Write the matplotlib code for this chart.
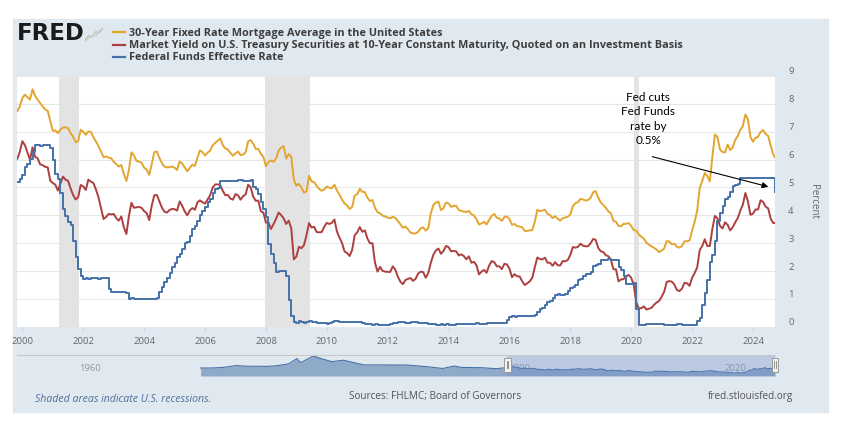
import numpy as np
import matplotlib
matplotlib.use("Agg")
import matplotlib.pyplot as plt
import matplotlib.transforms as mtransforms
from matplotlib.patches import Rectangle
from matplotlib.lines import Line2D

plt.rcParams['font.family'] = ['Open Sans', 'DejaVu Sans']

# monthly values, Nov 1999 .. Sep 2024
mortgage_rate = [
    7.74, 7.91,
    8.21, 8.33, 8.24, 8.15, 8.52, 8.29, 8.15, 8.03, 7.91, 7.80, 7.75, 7.38,
    7.03, 7.05, 6.95, 7.08, 7.15, 7.16, 7.13, 6.95, 6.82, 6.62, 6.66, 7.07,
    7.00, 6.89, 7.01, 6.99, 6.81, 6.65, 6.49, 6.29, 6.09, 6.11, 6.07, 6.05,
    5.92, 5.84, 5.75, 5.81, 5.48, 5.23, 5.63, 6.26, 6.15, 5.95, 5.93, 5.88,
    5.71, 5.64, 5.45, 5.83, 6.27, 6.29, 6.06, 5.87, 5.75, 5.72, 5.73, 5.75,
    5.71, 5.63, 5.93, 5.86, 5.72, 5.58, 5.70, 5.82, 5.77, 6.07, 6.33, 6.27,
    6.15, 6.25, 6.32, 6.51, 6.60, 6.68, 6.76, 6.52, 6.40, 6.36, 6.24, 6.14,
    6.22, 6.29, 6.16, 6.18, 6.26, 6.66, 6.70, 6.57, 6.38, 6.38, 6.21, 6.10,
    5.76, 5.92, 5.97, 5.92, 6.04, 6.32, 6.43, 6.48, 6.04, 6.20, 6.09, 5.29,
    5.06, 5.13, 5.00, 4.81, 4.86, 5.42, 5.22, 5.19, 5.06, 4.95, 4.88, 4.93,
    5.03, 4.99, 4.97, 5.10, 4.89, 4.74, 4.56, 4.43, 4.35, 4.23, 4.30, 4.71,
    4.76, 4.95, 4.84, 4.84, 4.64, 4.51, 4.55, 4.27, 4.11, 4.07, 3.99, 3.96,
    3.92, 3.89, 3.95, 3.91, 3.80, 3.68, 3.55, 3.60, 3.50, 3.38, 3.35, 3.35,
    3.41, 3.53, 3.57, 3.45, 3.54, 4.07, 4.37, 4.46, 4.49, 4.19, 4.26, 4.46,
    4.43, 4.30, 4.34, 4.34, 4.19, 4.16, 4.13, 4.12, 4.16, 4.04, 4.00, 3.86,
    3.67, 3.71, 3.77, 3.67, 3.84, 3.98, 4.05, 3.91, 3.89, 3.80, 3.94, 3.96,
    3.87, 3.66, 3.69, 3.61, 3.60, 3.57, 3.44, 3.44, 3.46, 3.47, 3.77, 4.20,
    4.15, 4.17, 4.20, 4.05, 4.01, 3.90, 3.97, 3.88, 3.81, 3.90, 3.92, 3.95,
    4.03, 4.33, 4.44, 4.47, 4.59, 4.57, 4.53, 4.55, 4.63, 4.83, 4.87, 4.64,
    4.46, 4.37, 4.27, 4.14, 4.07, 3.80, 3.77, 3.62, 3.61, 3.69, 3.70, 3.72,
    3.62, 3.47, 3.45, 3.31, 3.23, 3.16, 3.02, 2.94, 2.89, 2.83, 2.77, 2.68,
    2.74, 2.81, 3.08, 3.06, 2.96, 2.98, 2.87, 2.84, 2.90, 3.07, 3.07, 3.10,
    3.45, 3.76, 4.17, 4.98, 5.23, 5.52, 5.41, 5.22, 6.11, 6.90, 6.81, 6.36,
    6.27, 6.26, 6.54, 6.34, 6.43, 6.71, 6.84, 7.07, 7.20, 7.62, 7.44, 6.82,
    6.64, 6.78, 6.82, 6.99, 7.06, 6.92, 6.85, 6.50, 6.18,
]

treasury_10y = [
    6.03, 6.28,
    6.66, 6.52, 6.26, 5.99, 6.44, 6.10, 6.05, 5.83, 5.80, 5.74, 5.72, 5.24,
    5.16, 5.10, 4.89, 5.14, 5.39, 5.28, 5.24, 4.97, 4.73, 4.57, 4.65, 5.09,
    5.04, 4.91, 5.28, 5.21, 5.16, 4.93, 4.65, 4.26, 3.87, 3.94, 4.05, 4.03,
    4.05, 3.90, 3.81, 3.96, 3.57, 3.33, 3.98, 4.45, 4.27, 4.29, 4.30, 4.27,
    4.15, 4.08, 3.83, 4.35, 4.72, 4.73, 4.50, 4.28, 4.13, 4.10, 4.19, 4.23,
    4.22, 4.17, 4.50, 4.34, 4.14, 4.00, 4.18, 4.26, 4.20, 4.46, 4.54, 4.47,
    4.42, 4.57, 4.72, 4.99, 5.11, 5.11, 5.09, 4.88, 4.72, 4.73, 4.60, 4.56,
    4.76, 4.72, 4.56, 4.69, 4.75, 5.10, 5.00, 4.67, 4.52, 4.53, 4.15, 4.10,
    3.74, 3.74, 3.51, 3.68, 3.88, 4.10, 4.01, 3.89, 3.69, 3.81, 3.53, 2.42,
    2.52, 2.87, 2.82, 2.93, 3.29, 3.72, 3.56, 3.59, 3.40, 3.39, 3.40, 3.59,
    3.73, 3.69, 3.73, 3.85, 3.42, 3.20, 3.01, 2.70, 2.65, 2.54, 2.76, 3.29,
    3.39, 3.58, 3.41, 3.46, 3.17, 3.00, 3.00, 2.30, 1.98, 2.15, 2.01, 1.98,
    1.97, 1.97, 2.17, 2.05, 1.80, 1.62, 1.53, 1.68, 1.72, 1.75, 1.65, 1.72,
    1.91, 1.98, 1.96, 1.76, 1.93, 2.30, 2.58, 2.74, 2.81, 2.62, 2.72, 2.90,
    2.86, 2.71, 2.72, 2.71, 2.56, 2.60, 2.54, 2.42, 2.53, 2.30, 2.33, 2.21,
    1.88, 1.98, 2.04, 1.94, 2.20, 2.36, 2.32, 2.17, 2.17, 2.07, 2.26, 2.24,
    2.09, 1.78, 1.89, 1.81, 1.81, 1.64, 1.50, 1.56, 1.63, 1.76, 2.14, 2.49,
    2.43, 2.42, 2.48, 2.30, 2.30, 2.19, 2.32, 2.21, 2.20, 2.36, 2.35, 2.40,
    2.58, 2.86, 2.84, 2.87, 2.98, 2.91, 2.89, 2.89, 3.00, 3.15, 3.12, 2.83,
    2.71, 2.68, 2.57, 2.53, 2.40, 2.07, 2.06, 1.63, 1.70, 1.71, 1.81, 1.86,
    1.76, 1.50, 0.87, 0.66, 0.67, 0.73, 0.62, 0.65, 0.68, 0.79, 0.87, 0.93,
    1.08, 1.26, 1.61, 1.64, 1.62, 1.52, 1.32, 1.28, 1.37, 1.58, 1.56, 1.47,
    1.76, 1.93, 2.13, 2.75, 2.90, 3.14, 2.90, 2.90, 3.52, 3.98, 3.89, 3.62,
    3.53, 3.75, 3.66, 3.46, 3.57, 3.75, 3.90, 4.17, 4.38, 4.80, 4.50, 4.02,
    4.06, 4.21, 4.21, 4.54, 4.48, 4.31, 4.25, 3.87, 3.72,
]

fed_funds = [
    5.20, 5.30,
    5.45, 5.73, 5.85, 6.02, 6.27, 6.53, 6.54, 6.50, 6.52, 6.51, 6.51, 6.40,
    5.98, 5.49, 5.31, 4.80, 4.21, 3.97, 3.77, 3.65, 3.07, 2.49, 2.09, 1.82,
    1.73, 1.74, 1.73, 1.75, 1.75, 1.75, 1.73, 1.74, 1.75, 1.75, 1.34, 1.24,
    1.24, 1.26, 1.25, 1.26, 1.26, 1.22, 1.01, 1.03, 1.01, 1.01, 1.00, 0.98,
    1.00, 1.01, 1.00, 1.00, 1.00, 1.03, 1.26, 1.43, 1.61, 1.76, 1.93, 2.16,
    2.28, 2.50, 2.63, 2.79, 3.00, 3.04, 3.26, 3.50, 3.62, 3.78, 4.00, 4.16,
    4.29, 4.49, 4.59, 4.79, 4.94, 4.99, 5.24, 5.25, 5.25, 5.25, 5.25, 5.24,
    5.25, 5.26, 5.26, 5.25, 5.25, 5.25, 5.26, 5.02, 4.94, 4.76, 4.49, 4.24,
    3.94, 2.98, 2.61, 2.28, 1.98, 2.00, 2.01, 2.00, 1.81, 0.97, 0.39, 0.16,
    0.15, 0.22, 0.18, 0.15, 0.18, 0.21, 0.16, 0.16, 0.15, 0.12, 0.12, 0.12,
    0.11, 0.13, 0.16, 0.20, 0.20, 0.18, 0.18, 0.19, 0.19, 0.19, 0.19, 0.18,
    0.17, 0.16, 0.14, 0.10, 0.09, 0.09, 0.07, 0.10, 0.08, 0.07, 0.08, 0.07,
    0.08, 0.10, 0.13, 0.14, 0.16, 0.16, 0.16, 0.13, 0.14, 0.16, 0.16, 0.16,
    0.14, 0.15, 0.14, 0.15, 0.11, 0.09, 0.09, 0.08, 0.08, 0.09, 0.08, 0.09,
    0.07, 0.07, 0.08, 0.09, 0.09, 0.10, 0.09, 0.09, 0.09, 0.09, 0.09, 0.12,
    0.11, 0.11, 0.11, 0.12, 0.12, 0.13, 0.13, 0.14, 0.14, 0.12, 0.12, 0.24,
    0.34, 0.38, 0.36, 0.37, 0.37, 0.38, 0.39, 0.40, 0.40, 0.40, 0.41, 0.54,
    0.65, 0.66, 0.79, 0.90, 0.91, 1.04, 1.15, 1.16, 1.15, 1.15, 1.16, 1.30,
    1.41, 1.42, 1.51, 1.69, 1.70, 1.82, 1.91, 1.91, 1.95, 2.19, 2.20, 2.27,
    2.40, 2.40, 2.41, 2.42, 2.39, 2.38, 2.40, 2.13, 2.04, 1.83, 1.55, 1.55,
    1.55, 1.58, 0.65, 0.05, 0.05, 0.08, 0.09, 0.10, 0.09, 0.09, 0.09, 0.09,
    0.09, 0.08, 0.07, 0.07, 0.06, 0.08, 0.10, 0.09, 0.08, 0.08, 0.08, 0.08,
    0.08, 0.08, 0.20, 0.33, 0.77, 1.21, 1.68, 2.33, 2.56, 3.08, 3.78, 4.10,
    4.33, 4.57, 4.65, 4.83, 5.06, 5.08, 5.12, 5.33, 5.33, 5.33, 5.33, 5.33,
    5.33, 5.33, 5.33, 5.33, 5.33, 5.33, 5.33, 5.33, 5.33,
]

# last readings at the right edge (after the Sept 2024 cut)
tail_date = 2024.72
mortgage_last = 6.09
treasury_last = 3.73
fed_funds_last = 4.83

# mortgage history before 1999, only used in the small navigator
hist_dates = [1971.3, 1972.5, 1973.5, 1974.6, 1975.5, 1976.5, 1977.5, 1978.5, 1979.5,
              1980.25, 1980.6, 1981.8, 1982.5, 1983.5, 1984.6, 1985.5, 1986.5, 1987.5,
              1988.5, 1989.5, 1990.5, 1991.5, 1992.5, 1993.8, 1994.9, 1995.5, 1996.5,
              1997.5, 1998.8, 1999.5]
hist_mortgage = [7.3, 7.4, 8.0, 9.6, 9.0, 8.9, 8.85, 9.6, 11.2,
                 16.0, 12.3, 18.4, 16.0, 13.2, 14.5, 12.4, 10.2, 10.2,
                 10.3, 10.3, 10.1, 9.25, 8.4, 6.9, 9.2, 7.9, 7.8,
                 7.6, 6.7, 7.4]

recessions = [(2001.21, 2001.87), (2007.97, 2009.45), (2020.09, 2020.26)]
x_ticks = list(range(2000, 2025, 2))
y_ticks = list(range(0, 10))
nav_labels = [1960, 1980, 2000, 2020]

series_names = ["30-Year Fixed Rate Mortgage Average in the United States",
                "Market Yield on U.S. Treasury Securities at 10-Year Constant Maturity, Quoted on an Investment Basis",
                "Federal Funds Effective Rate"]
colors = ['#e3a52f', '#ad3f3f', '#4472a8']

start = 1999.83
dates = start + np.arange(len(mortgage_rate)) / 12.0
dates = np.append(dates, tail_date)
mort = np.append(mortgage_rate, mortgage_last)
tsy = np.append(treasury_10y, treasury_last)
ff = np.append(fed_funds, fed_funds_last)

W, H = 842, 435
fig = plt.figure(figsize=(W / 100, H / 100), dpi=100)
fig.patch.set_facecolor('white')


def fx(px):
    return px / W


def fy(py):
    return 1 - py / H


# light panel behind everything
fig.patches.append(Rectangle((fx(13), fy(413)), fx(828) - fx(13), fy(20) - fy(413),
                             transform=fig.transFigure, color='#e1e9f0', zorder=-10))

ax = fig.add_axes([fx(17.3), fy(327.8), fx(775) - fx(17.3), fy(77) - fy(327.8)])
ax.set_zorder(1)
ax.set_facecolor('white')
ax.set_xlim(start, tail_date)
ax.set_ylim(0, 9)
for s in ax.spines.values():
    s.set_visible(False)

ax.set_yticks(y_ticks)
ax.tick_params(axis='y', length=0, labelleft=False)
ax.grid(axis='y', color='#e6e6e6', lw=0.75, zorder=0.5)
ax.set_axisbelow(True)
ax.set_xticks(x_ticks)
ax.set_xticklabels([str(t) for t in x_ticks])
ax.tick_params(axis='x', length=3.6, width=0.7, color='#ccd6eb', labelsize=6.8,
               labelcolor='#666666', pad=3)

# y labels sit to the right of the plot, a few pixels above their grid line
ylab_tr = mtransforms.blended_transform_factory(fig.transFigure, ax.transData) + \
    mtransforms.ScaledTranslation(0, 5 / 100, fig.dpi_scale_trans)
for v in y_ticks:
    fig.text(fx(791), v, str(v), transform=ylab_tr, ha='center', va='center',
             fontsize=6.8, color='#666666')

for a, b in recessions:
    ax.axvspan(a, b, color='#e3e3e3', lw=0, zorder=1)

ax.plot(dates, mort, color=colors[0], lw=1.4, zorder=3)
ax.plot(dates, tsy, color=colors[1], lw=1.4, zorder=4)
ax.plot(dates, ff, color=colors[2], lw=1.4, drawstyle='steps-post', zorder=5)

ax.text(2020.56, 7.49, "Fed cuts\nFed Funds\nrate by\n0.5%", ha='center', va='center',
        fontsize=8.5, family=['Lato', 'DejaVu Sans'], linespacing=1.4, color='black', zorder=6)
ax.annotate('', xy=(2024.59, 5.0), xytext=(2020.6, 6.13),
            arrowprops=dict(arrowstyle='-|>', color='black', lw=0.8, mutation_scale=9), zorder=6)

fig.text(fx(813), fy(202), "Percent", rotation=270, ha='center', va='center',
         fontsize=7, color='#666666')

# navigator strip
nav = fig.add_axes([fx(17.3), fy(377), fx(775) - fx(17.3), fy(356) - fy(377)])
nav.set_zorder(1)
nav.set_facecolor('none')
nav.set_xlim(1954.25, tail_date)
nav.set_ylim(0, 19.3)
nav.axis('off')
nav_x = np.concatenate([hist_dates, dates])
nav_y = np.concatenate([hist_mortgage, mort])
for yr in nav_labels:
    nav.text(yr + 1.0, 7.5, str(yr), ha='center', va='center', fontsize=6.8,
             color='#999999', zorder=1)
nav.fill_between(nav_x, 0, nav_y, color='#8fa9c9', lw=0, zorder=2)
nav.plot(nav_x, nav_y, color='#4572a7', lw=0.8, zorder=3)
nav.axvspan(start, tail_date, color='#6685c2', alpha=0.3, lw=0, zorder=4)
nav.axhline(19.3, color='#c8c8c8', lw=0.8, clip_on=False, zorder=4)
for hx in (start, tail_date):
    nav.add_patch(Rectangle((hx - 0.3, 4.0), 0.6, 12.5, facecolor='#f2f2f2',
                            edgecolor='#999999', lw=0.7, zorder=5, clip_on=False))
    nav.plot([hx - 0.08, hx - 0.08], [7, 13.5], color='#666666', lw=0.5, zorder=6, clip_on=False)
    nav.plot([hx + 0.08, hx + 0.08], [7, 13.5], color='#666666', lw=0.5, zorder=6, clip_on=False)

# header: logo and legend
fig.text(fx(17), fy(34), "FRED", fontsize=16.5, fontweight='heavy', family='DejaVu Sans',
         color='#1b1b1b', ha='left', va='center')
icon = fig.add_axes([fx(85), fy(43), fx(18), fy(28) - fy(43)])
icon.set_zorder(1)
icon.axis('off')
icon.plot([0, 1, 2, 3, 4, 5], [0.5, 1.5, 1.2, 2.5, 2.2, 3.4], color='#b9c7a8', lw=0.9)
icon.plot([0, 1, 2, 3, 4, 5], [0.2, 0.9, 1.6, 1.4, 2.8, 3.0], color='#c5cbd3', lw=0.9)
icon.set_xlim(0, 5)
icon.set_ylim(0, 3.6)

legend_rows = [33.3, 45.5, 57.6]
for name, c, ry in zip(series_names, colors, legend_rows):
    fig.add_artist(Line2D([fx(113), fx(125)], [fy(ry), fy(ry)], color=c, lw=1.6))
    fig.text(fx(129), fy(ry), name, fontsize=7.85, fontweight='bold', color='#3d3d3d',
             ha='left', va='center')

# footer
fig.text(fx(35), fy(400), "Shaded areas indicate U.S. recessions.", fontsize=7.6,
         style='italic', color='#4f6f9c', ha='left', va='center')
fig.text(fx(435), fy(397), "Sources: FHLMC; Board of Governors", fontsize=7.2,
         color='#555555', ha='center', va='center')
fig.text(fx(793), fy(397), "fred.stlouisfed.org", fontsize=7.2, color='#555555',
         ha='right', va='center')

fig.savefig("out.png", dpi=100, facecolor='white')
